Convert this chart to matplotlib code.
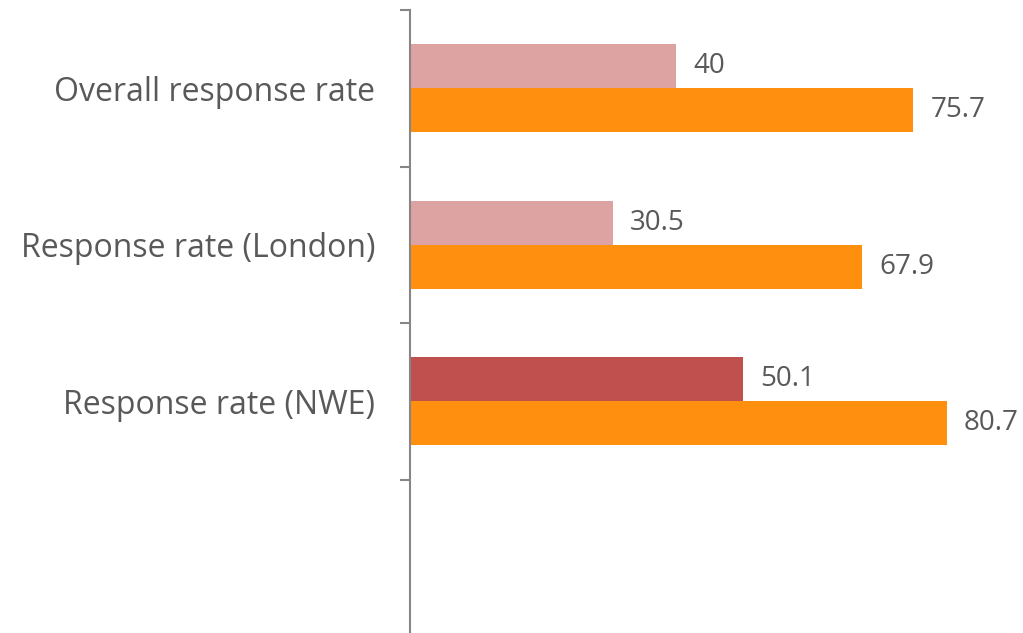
import matplotlib
matplotlib.use("Agg")
import matplotlib.pyplot as plt
import numpy as np

categories = ["Overall response rate", "Response rate (London)", "Response rate (NWE)"]
first_values = [40, 30.5, 50.1]
second_values = [75.7, 67.9, 80.7]
first_colors = ["#DDA2A2", "#DDA2A2", "#C0504D"]
second_color = "#FF8F0F"
text_color = "#595959"
axis_color = "#868686"

plt.rcParams["font.family"] = ["Open Sans", "DejaVu Sans"]

fig = plt.figure(figsize=(10.23, 6.33), dpi=100)
ax = fig.add_axes([410 / 1023, 1 - 636 / 633, 598.5 / 1023, 626 / 633])

n_slots = 4
bar_h = 0.281
pos = np.arange(len(categories))
ax.barh(pos - bar_h / 2, first_values, height=bar_h, color=first_colors)
ax.barh(pos + bar_h / 2, second_values, height=bar_h, color=second_color)

for i, (a, b) in enumerate(zip(first_values, second_values)):
    ax.annotate(f"{a:g}", (a, i - bar_h / 2), xytext=(12.5, 0), textcoords="offset points",
                va="center", ha="left", fontsize=20, color=text_color)
    ax.annotate(f"{b:g}", (b, i + bar_h / 2), xytext=(12.5, 0), textcoords="offset points",
                va="center", ha="left", fontsize=20, color=text_color)

ax.set_xlim(0, 90)
ax.set_ylim(n_slots - 0.5, -0.5)

ax.set_yticks(np.arange(n_slots + 1) - 0.5)
ax.set_yticklabels([])
ax.set_yticks(pos, minor=True)
ax.set_yticklabels(categories, minor=True, fontsize=23, color=text_color)
ax.tick_params(axis="y", which="major", length=7.5, width=1.5, color=axis_color)
ax.tick_params(axis="y", which="minor", length=0, pad=25)

ax.set_xticks([])
for side in ["top", "right", "bottom"]:
    ax.spines[side].set_visible(False)
ax.spines["left"].set_color(axis_color)
ax.spines["left"].set_linewidth(1.5)

fig.savefig("out.png", dpi=100)
